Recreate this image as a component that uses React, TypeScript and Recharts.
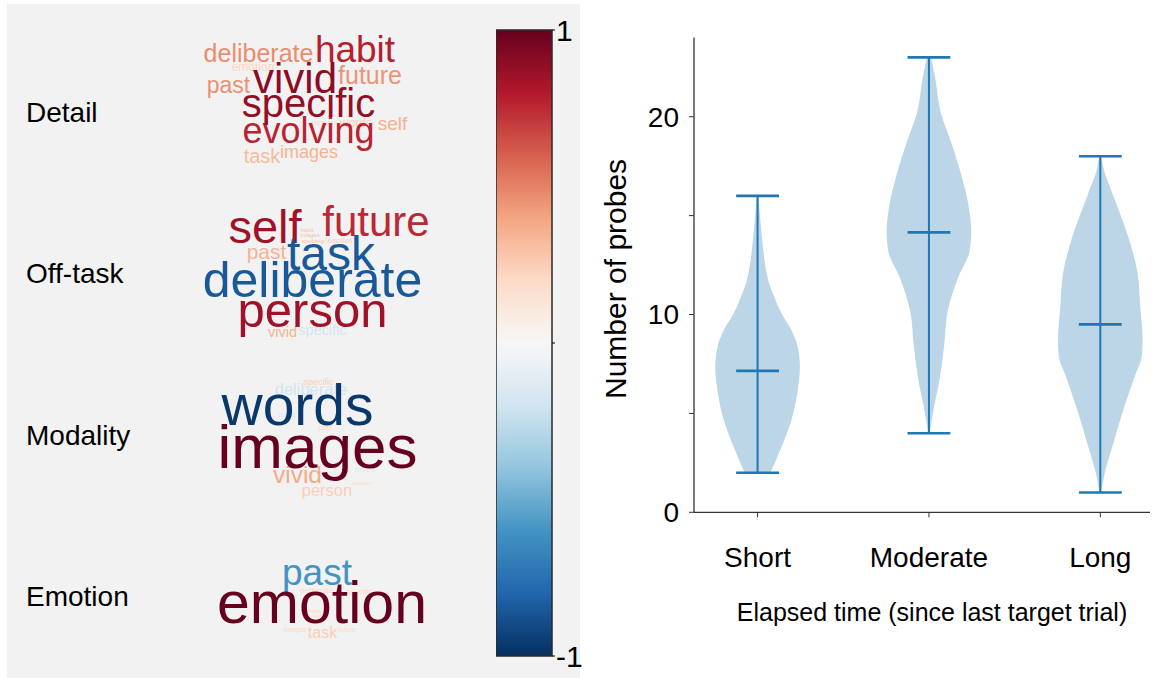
import React from 'react';
import {
  ComposedChart,
  Area,
  XAxis,
  YAxis,
  ReferenceLine,
  ScatterChart,
  Scatter,
  BarChart,
  Bar,
  Label,
} from 'recharts';

const FONT = '"Liberation Sans", Arial, Helvetica, sans-serif';

// ---- violin plot data ----
const groups = ['Short', 'Moderate', 'Long'];
const mins = [2, 4, 1];
const medians = [7.15, 14.15, 9.5];
const maxs = [16, 23, 18];

// density outline: value on the y axis, half width in category units
const shortY = [2.0, 3.3, 5.0, 6.35, 7.35, 8.4, 9.2, 10.05, 10.9, 11.75, 12.6, 13.45, 14.3, 15.1, 16.0];
const shortW = [0.075, 0.14, 0.208, 0.237, 0.247, 0.233, 0.198, 0.14, 0.097, 0.062, 0.043, 0.031, 0.021, 0.013, 0.005];
const moderateY = [4.03, 5.1, 6.8, 8.45, 10.15, 11.85, 13.2, 14.2, 15.2, 16.9, 18.55, 20.25, 21.95, 23.0];
const moderateW = [0.005, 0.025, 0.064, 0.089, 0.109, 0.169, 0.237, 0.247, 0.237, 0.194, 0.136, 0.068, 0.037, 0.012];
const longY = [1.0, 1.97, 3.66, 5.34, 7.03, 7.87, 8.7, 10.4, 12.1, 13.77, 15.45, 16.3, 17.15, 18.0];
const longW = [0.004, 0.026, 0.082, 0.14, 0.208, 0.242, 0.247, 0.233, 0.217, 0.169, 0.1, 0.063, 0.026, 0.006];

const yTicks = [0, 5, 10, 15, 20];

// ---- word clouds ----
const rows = ['Detail', 'Off-task', 'Modality', 'Emotion'];

const detailWords = ['person', 'emotion', 'words', 'task', 'images', 'self', 'past', 'future', 'deliberate', 'evolving', 'habit', 'specific', 'vivid'];
const detailWeights = [8, 12, 12, 20, 18, 19, 23, 25, 25, 36, 37, 40, 42];
const detailCorr = [0.2, 0.22, 0.24, 0.32, 0.35, 0.36, 0.46, 0.45, 0.47, 0.77, 0.78, 0.88, 0.9];

const offTaskWords = ['habit', 'images', 'evolving', 'emotion', 'vivid', 'specific', 'past', 'future', 'self', 'person', 'task', 'deliberate'];
const offTaskWeights = [6, 6, 6, 7, 14.5, 14.5, 21, 42, 47, 49, 48, 50];
const offTaskCorr = [0.3, 0.3, 0.3, 0.25, 0.35, -0.2, 0.35, 0.75, 0.85, 0.85, -0.85, -0.85];

const modalityWords = ['emotion', 'past', 'habit', 'future', 'specific', 'person', 'deliberate', 'vivid', 'words', 'images'];
const modalityWeights = [6, 7, 8, 8, 9, 16.5, 16.5, 24.5, 57, 62];
const modalityCorr = [0.2, 0.2, -0.15, -0.15, 0.25, 0.25, -0.2, 0.38, -0.97, 1.0];

const emotionWords = ['habit', 'self', 'images', 'future', 'deliberate', 'specific', 'task', 'past', 'emotion'];
const emotionWeights = [6, 6, 7, 7, 7.5, 7.5, 16, 37, 59];
const emotionCorr = [0.2, 0.2, 0.2, 0.2, 0.2, 0.2, 0.25, -0.6, 1.0];

// cloud layout (offsets from each cloud's centre)
const detailLayoutX = [9, -62, 41, -53, -6, 77.5, -86.5, 55, -56.5, -6.5, 40, -6.5, -20];
const detailLayoutY = [13, -41, 15, 51, 46, 18, -19, -28, -50, 31, -50, 5, -19];
const offTaskLayoutX = [-8, -5, -2, 25, -32.5, 7.5, -48.5, 61, -50, -2.5, 16, -2.5];
const offTaskLayoutY = [-41, -36, -30, -30, 64, 62, -14, -37, -30, 54, -3, 24];
const modalityLayoutX = [47.5, 10, -28.5, 50, 3.5, 12, -4, -17.5, -17.5, 2.5];
const modalityLayoutY = [50, -5, -18, 37, -50, 61, -40, 48, -10, 33];
const emotionLayoutX = [-0.5, 2, -20, 32, 1.5, 44.5, 7.5, 2, 7];
const emotionLayoutY = [17, 22, 36, 36, -3, -2, 42, -11, 27];

const colorbarTicks = [-1, 0, 1];

// RdBu colormap, +1 (red) to -1 (blue)
const RDBU = ['#67001f', '#b2182b', '#d6604d', '#f4a582', '#fddbc7', '#f7f7f7', '#d1e5f0', '#92c5de', '#4393c3', '#2166ac', '#053061'];

function hexToRgb(h: string) {
  return [1, 3, 5].map((i) => parseInt(h.slice(i, i + 2), 16));
}

function rdbu(v: number): string {
  const t = Math.max(0, Math.min(1, (1 - v) / 2)) * (RDBU.length - 1);
  const i = Math.min(Math.floor(t), RDBU.length - 2);
  const f = t - i;
  const a = hexToRgb(RDBU[i]);
  const b = hexToRgb(RDBU[i + 1]);
  const c = a.map((x, k) => Math.round(x + (b[k] - x) * f));
  return `rgb(${c[0]},${c[1]},${c[2]})`;
}

const ROW_PITCH = 161.5;
const rowCenters = rows.map((_, i) => ROW_PITCH / 2 + i * ROW_PITCH);

function buildCloud(row: number, words: string[], weights: number[], corr: number[], lx: number[], ly: number[]) {
  return words.map((word, i) => ({
    word,
    weight: weights[i],
    corr: corr[i],
    x: lx[i],
    y: rowCenters[row] + ly[i],
  }));
}

const clouds = [
  buildCloud(0, detailWords, detailWeights, detailCorr, detailLayoutX, detailLayoutY),
  buildCloud(1, offTaskWords, offTaskWeights, offTaskCorr, offTaskLayoutX, offTaskLayoutY),
  buildCloud(2, modalityWords, modalityWeights, modalityCorr, modalityLayoutX, modalityLayoutY),
  buildCloud(3, emotionWords, emotionWeights, emotionCorr, emotionLayoutX, emotionLayoutY),
];

function violinData(center: number, ys: number[], ws: number[]) {
  return ys.map((y, i) => ({ y, span: [center - ws[i], center + ws[i]] }));
}

const violins = [
  violinData(1, shortY, shortW),
  violinData(2, moderateY, moderateW),
  violinData(3, longY, longW),
];

const BLUE = '#1f77b4';
const VIOLIN_FILL = '#bcd6e8';
const CAP = 0.125;

function WordMark(props: any) {
  const { cx, cy, payload } = props;
  if (cx == null || cy == null) return null;
  return (
    <text
      x={cx}
      y={cy}
      textAnchor="middle"
      fontSize={payload.weight}
      fontFamily={FONT}
      fill={rdbu(payload.corr)}
    >
      {payload.word}
    </text>
  );
}

function RowTick(props: any) {
  const { y, payload } = props;
  const idx = rowCenters.indexOf(payload.value);
  return (
    <text x={26} y={y} dy={10} fontSize={28} fontFamily={FONT} fill="#000">
      {rows[idx]}
    </text>
  );
}

function WordClouds() {
  return (
    <ScatterChart
      width={430}
      height={678}
      margin={{ top: 31, right: 0, bottom: 1, left: 0 }}
    >
      <XAxis type="number" dataKey="x" domain={[-115, 115]} hide />
      <YAxis
        type="number"
        dataKey="y"
        domain={[0, ROW_PITCH * 4]}
        reversed
        ticks={rowCenters}
        tick={<RowTick />}
        axisLine={false}
        tickLine={false}
        width={200}
        interval={0}
      />
      {clouds.map((c, i) => (
        <Scatter
          key={i}
          data={c}
          shape={(p: any) => <WordMark {...p} />}
          isAnimationActive={false}
        />
      ))}
    </ScatterChart>
  );
}

function ColorBar() {
  return (
    <BarChart
      width={96}
      height={678}
      data={[{ name: 'r', span: [-1, 1] }]}
      margin={{ top: 30, right: 0, bottom: 22, left: 0 }}
      barCategoryGap={0}
    >
      <defs>
        <linearGradient id="rdbu" x1="0" y1="0" x2="0" y2="1">
          {RDBU.map((c, i) => (
            <stop key={c} offset={`${(i / (RDBU.length - 1)) * 100}%`} stopColor={c} />
          ))}
        </linearGradient>
      </defs>
      <XAxis type="category" dataKey="name" hide />
      <YAxis
        orientation="right"
        type="number"
        domain={[-1, 1]}
        ticks={colorbarTicks}
        tickFormatter={(v: number) => (v === 0 ? '' : String(v))}
        axisLine={false}
        tickLine={{ stroke: '#000' }}
        tickSize={3}
        tickMargin={1}
        tick={{ fontSize: 30, fill: '#000', fontFamily: FONT }}
        width={40}
        interval={0}
      />
      <Bar
        dataKey="span"
        fill="url(#rdbu)"
        stroke="#2b2b2b"
        strokeWidth={1.5}
        isAnimationActive={false}
      />
    </BarChart>
  );
}

function ViolinChart() {
  return (
    <ComposedChart
      layout="vertical"
      width={572}
      height={678}
      margin={{ top: 37.6, right: 2, bottom: 0, left: 0 }}
    >
      <XAxis
        type="number"
        domain={[0.629, 3.29]}
        allowDataOverflow
        ticks={[1, 2, 3]}
        tickFormatter={(v: number) => groups[v - 1]}
        height={165.7}
        axisLine={{ stroke: '#333', strokeWidth: 1.3 }}
        tickLine={{ stroke: '#333' }}
        tickSize={5}
        tickMargin={30}
        tick={{ fontSize: 28, fill: '#000', fontFamily: FONT }}
        interval={0}
      >
        <Label
          content={(p: any) => {
            const vb = p.viewBox;
            return (
              <text
                x={vb.x + vb.width / 2 + 10}
                y={vb.y + 109}
                textAnchor="middle"
                fontSize={25}
                fontFamily={FONT}
                fill="#000"
              >
                Elapsed time (since last target trial)
              </text>
            );
          }}
        />
      </XAxis>
      <YAxis
        type="number"
        dataKey="y"
        domain={[0, 24]}
        reversed
        allowDataOverflow
        ticks={yTicks}
        tickFormatter={(v: number) => (v % 10 === 0 ? String(v) : '')}
        width={114}
        axisLine={{ stroke: '#333', strokeWidth: 1.3 }}
        tickLine={{ stroke: '#333' }}
        tickSize={5}
        tickMargin={10}
        tick={{ fontSize: 28, fill: '#000', fontFamily: FONT }}
        interval={0}
      >
        <Label
          content={(p: any) => {
            const vb = p.viewBox;
            const cx = vb.x + 46;
            const cy = vb.y + vb.height / 2 + 4;
            return (
              <text
                x={cx}
                y={cy}
                transform={`rotate(-90 ${cx} ${cy})`}
                textAnchor="middle"
                fontSize={30}
                fontFamily={FONT}
                fill="#000"
              >
                Number of probes
              </text>
            );
          }}
        />
      </YAxis>
      {violins.map((d, i) => (
        <Area
          key={groups[i]}
          data={d}
          dataKey="span"
          type="monotone"
          fill={VIOLIN_FILL}
          fillOpacity={1}
          stroke="none"
          isAnimationActive={false}
        />
      ))}
      {groups.map((g, i) => (
        <ReferenceLine
          key={`v-${g}`}
          segment={[
            { x: i + 1, y: mins[i] },
            { x: i + 1, y: maxs[i] },
          ]}
          stroke={BLUE}
          strokeWidth={2}
        />
      ))}
      {groups.map((g, i) =>
        [mins[i], medians[i], maxs[i]].map((v, k) => (
          <ReferenceLine
            key={`c-${g}-${k}`}
            segment={[
              { x: i + 1 - CAP, y: v },
              { x: i + 1 + CAP, y: v },
            ]}
            stroke={BLUE}
            strokeWidth={2.6}
          />
        )),
      )}
    </ComposedChart>
  );
}

export default function App() {
  return (
    <div
      style={{
        position: 'absolute',
        left: 0,
        top: 0,
        width: 1152,
        height: 678,
        background: '#fff',
        overflow: 'hidden',
        fontFamily: FONT,
      }}
    >
      <div
        style={{
          position: 'absolute',
          left: 7,
          top: 4,
          width: 573,
          height: 674,
          background: '#f2f2f2',
        }}
      />
      <div style={{ position: 'absolute', left: 0, top: 0 }}>
        <WordClouds />
      </div>
      <div style={{ position: 'absolute', left: 496, top: 0 }}>
        <ColorBar />
      </div>
      <div style={{ position: 'absolute', left: 580, top: 0 }}>
        <ViolinChart />
      </div>
    </div>
  );
}
